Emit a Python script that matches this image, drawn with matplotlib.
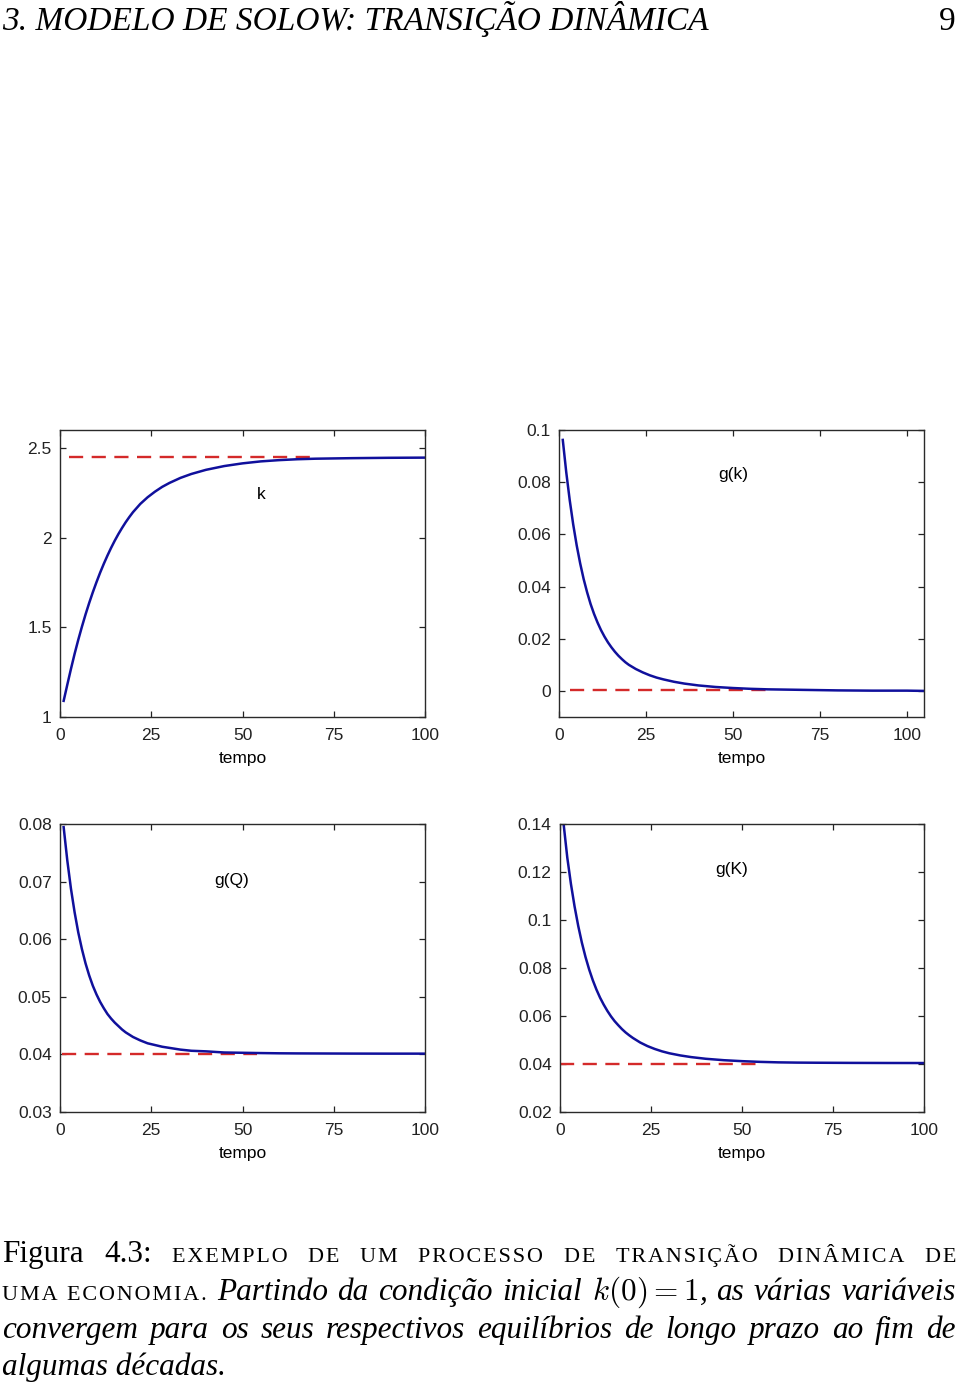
import matplotlib
matplotlib.use('Agg')
import matplotlib.pyplot as plt
from matplotlib.ticker import FuncFormatter

# (tempo in years)
tempo = list(range(1, 21)) + [22, 24, 26, 28, 30, 33, 36, 40, 45, 50, 55,
                              60, 65, 70, 80, 90, 100]
tempo_gk = tempo + [105]

k_path = [1.090, 1.180, 1.268, 1.352, 1.430, 1.503, 1.572, 1.636, 1.696,
          1.752, 1.805, 1.854, 1.900, 1.943, 1.983, 2.020, 2.054, 2.086,
          2.115, 2.142, 2.188, 2.225, 2.256, 2.283, 2.305, 2.333, 2.355,
          2.378, 2.399, 2.414, 2.425, 2.432, 2.437, 2.440, 2.443, 2.445,
          2.446]
k_star = 2.447
k_star_span = (2.5, 70)

gk_path = [0.0962, 0.0838, 0.0731, 0.0638, 0.0558, 0.0489, 0.0429, 0.0378,
           0.0333, 0.0295, 0.0262, 0.0233, 0.0208, 0.0186, 0.0167, 0.0150,
           0.0135, 0.0122, 0.0110, 0.0100, 0.0084, 0.0071, 0.0060, 0.0051,
           0.0044, 0.0035, 0.0028, 0.0021, 0.0015, 0.0011, 0.0008, 0.0006,
           0.0005, 0.0004, 0.0002, 0.0001, 0.0001, 0.0]
gk_star = 0.0003
gk_star_span = (3, 60)

gq_path = [0.0795, 0.0737, 0.0688, 0.0647, 0.0612, 0.0583, 0.0558, 0.0537,
           0.0519, 0.0504, 0.0491, 0.0480, 0.0470, 0.0462, 0.0455, 0.0449,
           0.0443, 0.0438, 0.0434, 0.0430, 0.0424, 0.0419, 0.0416, 0.0413,
           0.0411, 0.0408, 0.0406, 0.0405, 0.0403, 0.04025, 0.0402, 0.04016,
           0.04014, 0.04013, 0.04011, 0.0401, 0.0401]
gq_star = 0.0400
gq_star_span = (0.5, 54)

gK_path = [0.1400, 0.1261, 0.1151, 0.1057, 0.0976, 0.0906, 0.0846, 0.0794,
           0.0749, 0.0710, 0.0676, 0.0647, 0.0621, 0.0598, 0.0578, 0.0561,
           0.0545, 0.0531, 0.0519, 0.0508, 0.0489, 0.0474, 0.0462, 0.0452,
           0.0444, 0.0435, 0.0428, 0.0421, 0.0415, 0.0411, 0.0408, 0.0406,
           0.0405, 0.04045, 0.04038, 0.04034, 0.04032]
gK_star = 0.0398
gK_star_span = (0, 55.5)

xticks = [0, 25, 50, 75, 100]

blue = '#10109c'
red = '#d42a2a'
tick_font = 'Liberation Sans'
fs = 12.5

W, H = 960, 1384
fig = plt.figure(figsize=(W / 100, H / 100), dpi=100)


def px_axes(left, top, right, bottom):
    return fig.add_axes([left / W, 1 - bottom / H, (right - left) / W,
                         (bottom - top) / H])


def style(ax, xlim, ylim, yticks):
    ax.set_xlim(xlim)
    ax.set_ylim(ylim)
    ax.set_xticks(xticks)
    ax.set_yticks(yticks)
    ax.yaxis.set_major_formatter(FuncFormatter(lambda v, p: '%g' % round(v, 4)))
    ax.tick_params(direction='in', length=4, width=0.9, top=True, right=True,
                   labelsize=fs, colors='#222222', pad=6)
    ax.tick_params(axis='x', pad=8)
    for lab in ax.get_xticklabels() + ax.get_yticklabels():
        lab.set_family(tick_font)
    for s in ax.spines.values():
        s.set_color('#2a2a2a')
        s.set_linewidth(1.0)
    ax.set_xlabel('tempo', fontsize=fs, family=tick_font, labelpad=6)


def draw(ax, t, path, star, span, label, lx, ly):
    ax.plot(span, [star, star], color=red, lw=1.7, linestyle=(0, (6, 3.6)))
    ax.plot(t, path, color=blue, lw=1.8)
    ax.text(lx, ly, label, fontsize=fs, family=tick_font, ha='center',
            va='center')


ax = px_axes(60, 430, 425, 717)
draw(ax, tempo, k_path, k_star, k_star_span, 'k', 55, 2.242)
style(ax, (0, 100), (1, 2.6), [1, 1.5, 2, 2.5])

ax = px_axes(559.3, 430, 924.3, 717)
draw(ax, tempo_gk, gk_path, gk_star, gk_star_span, 'g(k)', 50, 0.0828)
style(ax, (0, 105), (-0.01, 0.1), [0, 0.02, 0.04, 0.06, 0.08, 0.1])

ax = px_axes(60, 824.3, 425, 1111.7)
draw(ax, tempo, gq_path, gq_star, gq_star_span, 'g(Q)', 47, 0.0703)
style(ax, (0, 100), (0.03, 0.08), [0.03, 0.04, 0.05, 0.06, 0.07, 0.08])

ax = px_axes(560, 824.3, 924.3, 1111.7)
draw(ax, tempo, gK_path, gK_star, gK_star_span, 'g(K)', 47, 0.121)
style(ax, (0, 100), (0.02, 0.14), [0.02, 0.04, 0.06, 0.08, 0.1, 0.12, 0.14])

# page header
serif = ['Liberation Serif', 'DejaVu Serif']
fig.text(2 / W, 1 - 30 / H, '3. MODELO DE SOLOW: TRANSIÇÃO DINÂMICA',
         family=serif, style='italic', fontsize=24, va='baseline')
fig.text(955 / W, 1 - 30 / H, '9', family=serif, fontsize=24,
         va='baseline', ha='right')

# caption, justified word by word
cap = 22.5
reg = dict(family=serif, fontsize=cap)
sc = dict(family=serif, fontsize=cap * 0.71)
it = dict(family=serif, fontsize=cap, style='italic', math_fontfamily='cm')


def small_caps(word):
    return '\u200a'.join(word.upper())


lines = [
    [('Figura', reg), ('4.3:', reg)] +
    [(small_caps(w), sc) for w in
     'exemplo de um processo de transição dinâmica de'.split()],
    [(small_caps('uma'), sc), (small_caps('economia.'), sc)] +
    [(w, it) for w in ['Partindo', 'da', 'condição', 'inicial', '$k(0)=1$,',
                       'as', 'várias', 'variáveis']],
    [(w, it) for w in
     'convergem para os seus respectivos equilíbrios de longo prazo ao fim de'.split()],
]
baselines = [1262, 1300, 1338, 1375]
x_left, x_right = 2, 956

renderer = fig.canvas.get_renderer()
for words, yb in zip(lines, baselines):
    objs = [fig.text(0, 1 - yb / H, w, va='baseline', **p) for w, p in words]
    widths = [o.get_window_extent(renderer).width for o in objs]
    gap = (x_right - x_left - sum(widths)) / (len(objs) - 1)
    x = x_left
    for o, wd in zip(objs, widths):
        o.set_x(x / W)
        x += wd + gap

fig.text(x_left / W, 1 - baselines[3] / H, 'algumas décadas.', va='baseline',
         **it)

fig.savefig('out.png', dpi=100)
